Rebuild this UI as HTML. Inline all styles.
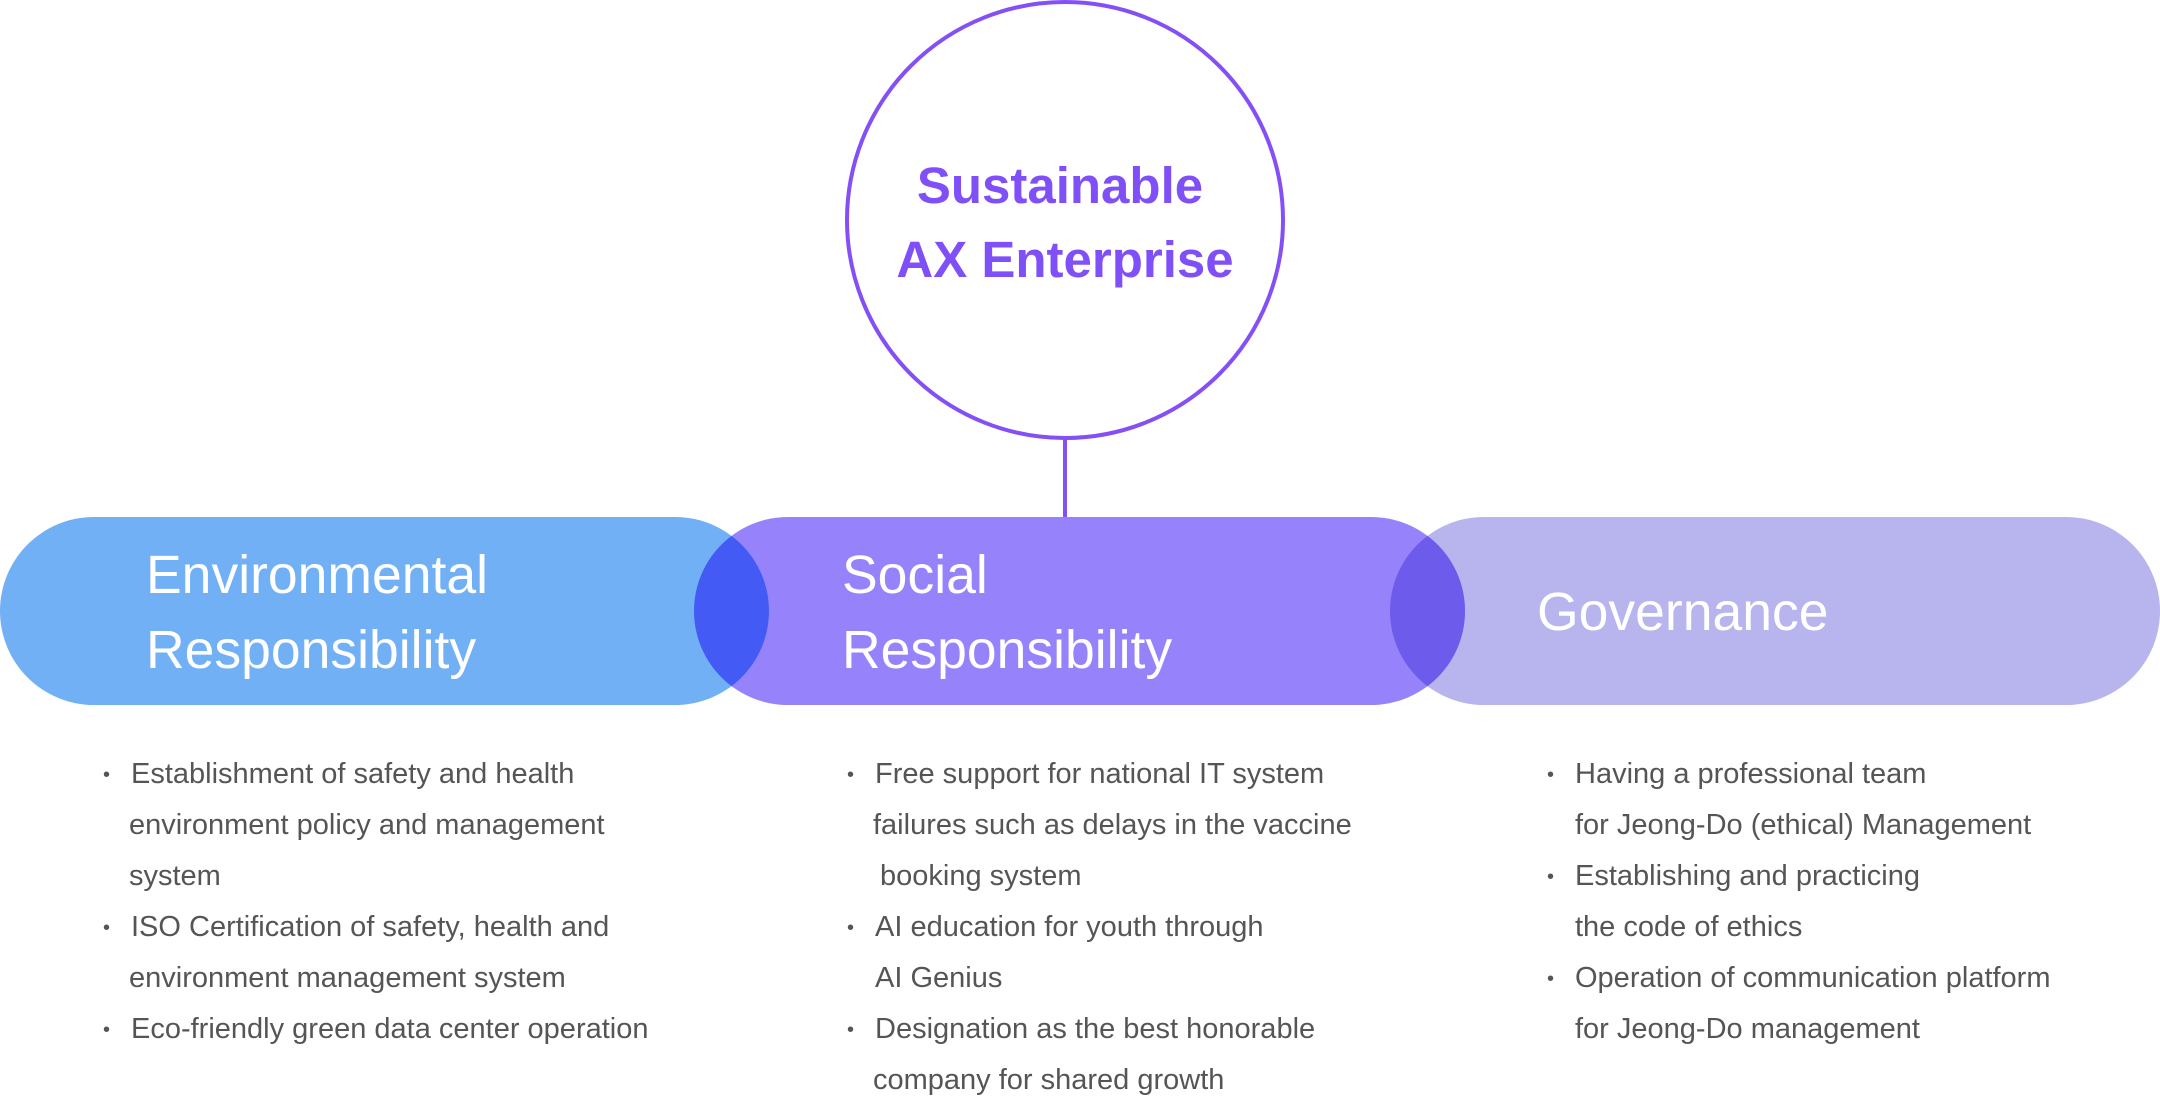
<!DOCTYPE html>
<html><head><meta charset="utf-8"><style>
html,body{margin:0;padding:0;background:#fff;}
svg{display:block;}
.t{font-family:"Liberation Sans",sans-serif;fill:#fff;font-size:53.5px;}
.c{font-family:"Liberation Sans",sans-serif;fill:#7f4ff7;font-size:51px;font-weight:bold;}
.b{font-family:"Liberation Sans",sans-serif;fill:#555;font-size:29px;}
.d{font-size:20px;}
</style></head><body>
<svg width="2160" height="1105" viewBox="0 0 2160 1105" xmlns="http://www.w3.org/2000/svg">
<defs>
<clipPath id="socc"><rect x="694" y="517" width="771" height="188" rx="94"/></clipPath>
</defs>
<circle cx="1065" cy="220" r="218" fill="#fff" stroke="#8450f6" stroke-width="4"/>
<line x1="1065" y1="438" x2="1065" y2="517" stroke="#8450f6" stroke-width="4"/>
<rect x="1390" y="517" width="770" height="188" rx="94" fill="#b8b4ee"/>
<rect x="694" y="517" width="771" height="188" rx="94" fill="#9683fc"/>
<rect x="0" y="517" width="769" height="188" rx="94" fill="#72b0f5"/>
<rect x="0" y="517" width="769" height="188" rx="94" fill="#445af5" clip-path="url(#socc)"/>
<rect x="1390" y="517" width="770" height="188" rx="94" fill="#6d5bec" clip-path="url(#socc)"/>
<text class="c" x="1060" y="203" text-anchor="middle">Sustainable</text>
<text class="c" x="1065" y="277" text-anchor="middle">AX Enterprise</text>
<text class="t" x="146" y="593">Environmental</text>
<text class="t" x="146" y="668">Responsibility</text>
<text class="t" x="842" y="593">Social</text>
<text class="t" x="842" y="668">Responsibility</text>
<text class="t" x="1537" y="630">Governance</text>
<g class="b">
<text class="d" x="103" y="781">•</text><text x="131" y="783">Establishment of safety and health</text>
<text x="129" y="834">environment policy and management</text>
<text x="129" y="885">system</text>
<text class="d" x="103" y="934">•</text><text x="131" y="936">ISO Certification of safety, health and</text>
<text x="129" y="987">environment management system</text>
<text class="d" x="103" y="1036">•</text><text x="131" y="1038">Eco-friendly green data center operation</text>

<text class="d" x="847" y="781">•</text><text x="875" y="783">Free support for national IT system</text>
<text x="873" y="834">failures such as delays in the vaccine</text>
<text x="880" y="885">booking system</text>
<text class="d" x="847" y="934">•</text><text x="875" y="936">AI education for youth through</text>
<text x="875" y="987">AI Genius</text>
<text class="d" x="847" y="1036">•</text><text x="875" y="1038">Designation as the best honorable</text>
<text x="873" y="1089">company for shared growth</text>

<text class="d" x="1547" y="781">•</text><text x="1575" y="783">Having a professional team</text>
<text x="1575" y="834">for Jeong-Do (ethical) Management</text>
<text class="d" x="1547" y="883">•</text><text x="1575" y="885">Establishing and practicing</text>
<text x="1575" y="936">the code of ethics</text>
<text class="d" x="1547" y="985">•</text><text x="1575" y="987">Operation of communication platform</text>
<text x="1575" y="1038">for Jeong-Do management</text>
</g>
</svg>
</body></html>
